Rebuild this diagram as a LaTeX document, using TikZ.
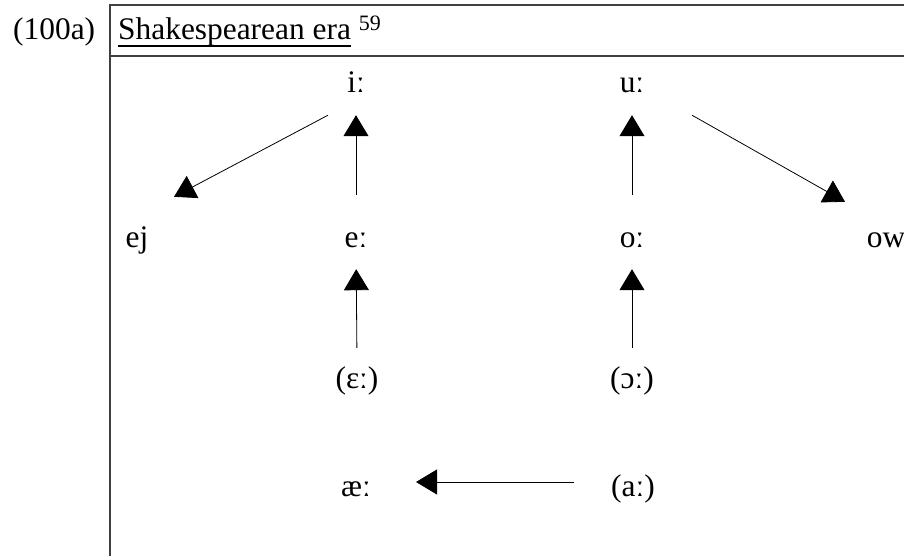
\documentclass[tikz,border=0pt]{standalone}
\usepackage{fontspec}
\setmainfont{Liberation Serif}
\usetikzlibrary{arrows.meta,calc}
\newcommand{\ulinetext}[1]{\setbox0\hbox{#1}\rlap{\rule[-7pt]{\wd0}{1.6pt}}\box0\relax}

\begin{document}
\begin{tikzpicture}[x=1pt,y=-1pt,
		sound/.style={anchor=base,inner sep=0pt,text height=28pt,text depth=0pt,font=\fontsize{31.4}{36}\selectfont},
		heading/.style={anchor=base west,inner sep=0pt,font=\fontsize{31.4}{36}\selectfont},
		soundchange/.style={-{Triangle[length=21pt,width=25pt]},line width=0.8pt},
		frame/.style={line width=1.1pt,color=black!75}]
			%%%%% START %%%%%
			
			\useasboundingbox (0,0) rectangle (904,556);
			
			\draw[frame] (904,5) -- (110,5) -- (110,556);
			\draw[frame] (110,56) -- (904,56);
			
			\node[heading] (num) at (13,40) {(100a)};
			\node[heading] (title) at (118,40) {\ulinetext{Shakespearean era} \textsuperscript{59}};
			
			\node[sound] (i) at (356,93) {iː};
			\node[sound] (u) at (632,93) {uː};
			
			\node[sound] (ej) at (137,247) {ej};
			\node[sound] (e) at (356,247) {eː};
			\node[sound] (o) at (632,247) {oː};
			\node[sound] (ow) at (886,247) {ow};
			
			\node[sound] (eps) at (357,388) {(ɛː)};
			\node[sound] (opn) at (632,388) {(ɔː)};
			
			\node[sound] (ae) at (356,496) {æː};
			\node[sound] (a) at (633,496) {(aː)};
			
			\draw[soundchange,shorten <=24pt,shorten >=22pt] (e.north) -- (i.south);
			\draw[soundchange,shorten <=24pt,shorten >=22pt] (o.north) -- (u.south);
			\draw[soundchange] ($(i.south)+(-28,22)$) -- ($(ej.north)+(37,-22)$);
			\draw[soundchange] ($(u.south)+(60,22)$) -- ($(ow.north)+(-41,-17)$);
			
			\draw[soundchange,shorten <=12pt,shorten >=22pt] (eps.north) -- (e.south);
			\draw[soundchange,shorten <=12pt,shorten >=22pt] (opn.north) -- (o.south);
			
			\draw[soundchange,shorten <=37pt,shorten >=45pt] (a.west) -- (ae.east);
			
			%%%%% END %%%%%
		\end{tikzpicture}
\end{document}
